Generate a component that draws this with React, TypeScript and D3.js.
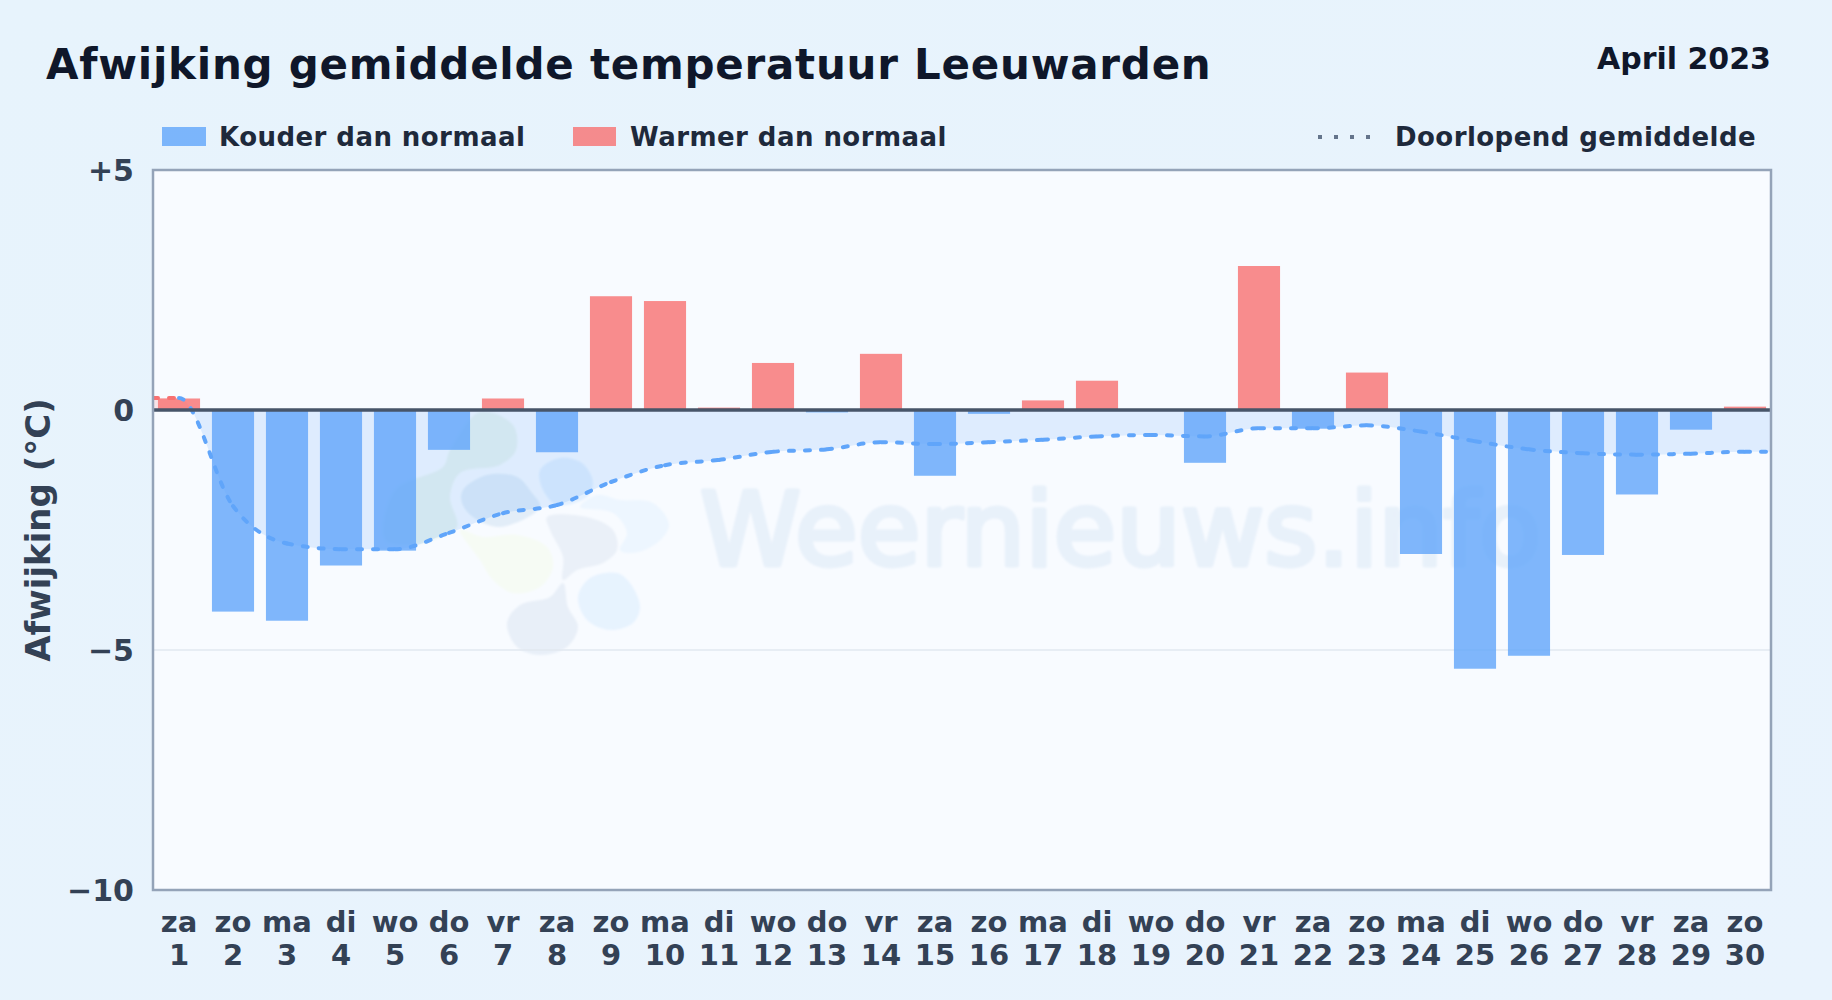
import React from "react";
import * as d3 from "d3";

const W = 1832, H = 1000;
const FONT = "'DejaVu Sans', sans-serif";

const weekdays = ["za","zo","ma","di","wo","do","vr","za","zo","ma","di","wo","do","vr","za","zo","ma","di","wo","do","vr","za","zo","ma","di","wo","do","vr","za","zo"];
const days = d3.range(1, 31);
const deviation = [0.24,-4.2,-4.39,-3.24,-2.93,-0.83,0.24,-0.88,2.37,2.27,0.05,0.98,-0.05,1.17,-1.37,-0.08,0.2,0.61,0.02,-1.1,3.0,-0.39,0.78,-3.0,-5.39,-5.12,-3.02,-1.76,-0.41,0.07];
const runningMean = [0.25,-2.0,-2.78,-2.9,-2.9,-2.56,-2.15,-1.98,-1.5,-1.15,-1.04,-0.87,-0.82,-0.67,-0.71,-0.67,-0.62,-0.55,-0.52,-0.55,-0.38,-0.38,-0.32,-0.45,-0.65,-0.82,-0.9,-0.93,-0.91,-0.87];
const yTicks = [5, 0, -5, -10];
const yTickLabels = ["+5", "0", "−5", "−10"];

const plot = { left: 153, right: 1771, top: 170, bottom: 890 };

const blobs: { color: string; pts: [number, number][] }[] = [
  { color: "#eaf4f0", pts: [[480,412],[513,425],[516,450],[500,465],[460,473],[450,497],[457,527],[433,540],[410,545],[385,540],[395,490],[443,467],[450,450]] },
  { color: "#f6fbf4", pts: [[460,530],[483,537],[517,535],[547,547],[553,567],[540,587],[513,593],[493,580],[480,560]] },
  { color: "#e2edf8", pts: [[463,490],[487,475],[517,477],[532,493],[540,507],[500,527],[473,517],[462,503]] },
  { color: "#e3f0fe", pts: [[540,470],[560,458],[582,463],[593,482],[587,497],[557,505],[543,490]] },
  { color: "#edf6ff", pts: [[597,495],[620,500],[653,503],[669,525],[657,543],[633,553],[620,550],[627,533],[613,513],[580,507]] },
  { color: "#eaf0f8", pts: [[547,517],[587,517],[613,530],[617,550],[603,563],[577,570],[563,580],[563,557],[550,530]] },
  { color: "#e8eff8", pts: [[507,623],[520,605],[550,597],[563,583],[568,607],[578,627],[567,647],[540,655],[517,647]] },
  { color: "#e7f3fe", pts: [[578,597],[590,578],[617,573],[630,583],[640,607],[633,623],[610,630],[587,620]] },
];

export default function App() {
  const y = d3.scaleLinear().domain([-10, 5]).range([plot.bottom, plot.top]);
  const x = d3.scaleBand<number>().domain(days).range([plot.left - 1, plot.right + 1]).paddingInner(0.22).paddingOuter(0.11);
  const cx = (d: number) => (x(d) as number) + x.bandwidth() / 2;

  const linePts: [number, number][] = [
    [plot.left, runningMean[0]],
    ...days.map((d, i) => [cx(d), runningMean[i]] as [number, number]),
    [plot.right, runningMean[runningMean.length - 1]],
  ];
  const lineGen = d3.line<[number, number]>().x((p) => p[0]).y((p) => y(p[1])).curve(d3.curveMonotoneX);
  const areaGen = d3.area<[number, number]>().x((p) => p[0]).y0(y(0)).y1((p) => y(p[1])).curve(d3.curveMonotoneX);

  const full = lineGen(linePts) as string;
  const segCmds = full.match(/C[^C]*/g) || [];
  let last = full.slice(1, full.indexOf("C"));
  const segments = segCmds.map((cmd, i) => {
    const d = `M${last}${cmd}`;
    const nums = cmd.slice(1).split(",");
    last = `${nums[4]},${nums[5]}`;
    return { d, color: linePts[i + 1][1] > 0 ? "#f87171" : "#60a5fa" };
  });

  const blob = d3.line<[number, number]>().curve(d3.curveCatmullRomClosed.alpha(0.5));

  return (
    <svg width={W} height={H} viewBox={`0 0 ${W} ${H}`} style={{ position: "fixed", left: 0, top: 0, display: "block", fontFamily: FONT }}>
      <defs>
        <linearGradient id="pageBg" x1="0" y1="0" x2="1" y2="1">
          <stop offset="0" stopColor="#e7f3fc" />
          <stop offset="1" stopColor="#e9f3fd" />
        </linearGradient>
        <clipPath id="plotClip"><rect x={plot.left} y={plot.top} width={plot.right - plot.left} height={plot.bottom - plot.top} /></clipPath>
        <clipPath id="belowZero"><rect x={plot.left} y={y(0)} width={plot.right - plot.left} height={plot.bottom - y(0)} /></clipPath>
        <clipPath id="aboveZero"><rect x={plot.left} y={plot.top} width={plot.right - plot.left} height={y(0) - plot.top} /></clipPath>
        <filter id="soft"><feGaussianBlur stdDeviation="1.2" /></filter>
      </defs>

      <rect width={W} height={H} fill="url(#pageBg)" />
      <rect x={plot.left} y={plot.top} width={plot.right - plot.left} height={plot.bottom - plot.top} fill="#f8fbff" />

      <text x={46} y={79} fontSize={42} fontWeight={700} letterSpacing={0.75} fill="#0f172a">Afwijking gemiddelde temperatuur Leeuwarden</text>
      <text x={1771} y={69} fontSize={30} fontWeight={700} textAnchor="end" fill="#0f172a">April 2023</text>

      <g>
        <rect x={162} y={127} width={44} height={19} fill="#60a5fa" opacity={0.8} />
        <text x={219} y={146} fontSize={26} fontWeight={700} letterSpacing={0.45} fill="#1e293b">Kouder dan normaal</text>
        <rect x={573} y={127} width={43} height={19} fill="#f87171" opacity={0.8} />
        <text x={630} y={146} fontSize={26} fontWeight={700} letterSpacing={0.45} fill="#1e293b">Warmer dan normaal</text>
        <line x1={1318} x2={1374} y1={137} y2={137} stroke="#64748b" strokeWidth={4} strokeDasharray="4 12" />
        <text x={1395} y={146} fontSize={26} fontWeight={700} letterSpacing={0.45} fill="#1e293b">Doorlopend gemiddelde</text>
      </g>

      <g clipPath="url(#plotClip)">
        <g filter="url(#soft)">
          {blobs.map((b, i) => <path key={i} d={blob(b.pts) as string} fill={b.color} />)}
          <text x={700} y={565} fontSize={102} fill="#e8f1fa" stroke="#e8f1fa" strokeWidth={5} strokeLinejoin="round">Weernieuws.info</text>
        </g>
        <line x1={plot.left} x2={plot.right} y1={y(-5)} y2={y(-5)} stroke="#e2e8f0" strokeWidth={1.5} />
        <path d={areaGen(linePts) as string} clipPath="url(#belowZero)" fill="#60a5fa" opacity={0.17} />
        <path d={areaGen(linePts) as string} clipPath="url(#aboveZero)" fill="#f87171" opacity={0.17} />
        {days.map((d, i) => {
          const v = deviation[i];
          return (
            <rect key={d} x={x(d)} width={x.bandwidth()} y={v > 0 ? y(v) : y(0)} height={Math.abs(y(v) - y(0))}
              fill={v > 0 ? "#f87171" : "#60a5fa"} opacity={0.8} />
          );
        })}
        {segments.map((s, i) => (
          <path key={i} d={s.d} fill="none" stroke={s.color} strokeWidth={4} strokeLinecap="round" strokeDasharray="5 11" />
        ))}
      </g>

      <line x1={plot.left} x2={plot.right} y1={y(0)} y2={y(0)} stroke="#475569" strokeWidth={3.5} />
      <rect x={plot.left} y={plot.top} width={plot.right - plot.left} height={plot.bottom - plot.top} fill="none" stroke="#94a3b8" strokeWidth={2.5} />

      {yTicks.map((t, i) => (
        <text key={t} x={134} y={y(t) + 11} textAnchor="end" fontSize={30} fontWeight={700} fill="#334155">{yTickLabels[i]}</text>
      ))}
      <text transform={`translate(50,530) rotate(-90)`} textAnchor="middle" fontSize={34} fontWeight={700} fill="#334155">Afwijking (°C)</text>

      {days.map((d, i) => (
        <g key={d} fontSize={29} fontWeight={700} fill="#334155" textAnchor="middle">
          <text x={cx(d)} y={932}>{weekdays[i]}</text>
          <text x={cx(d)} y={965}>{d}</text>
        </g>
      ))}
    </svg>
  );
}
